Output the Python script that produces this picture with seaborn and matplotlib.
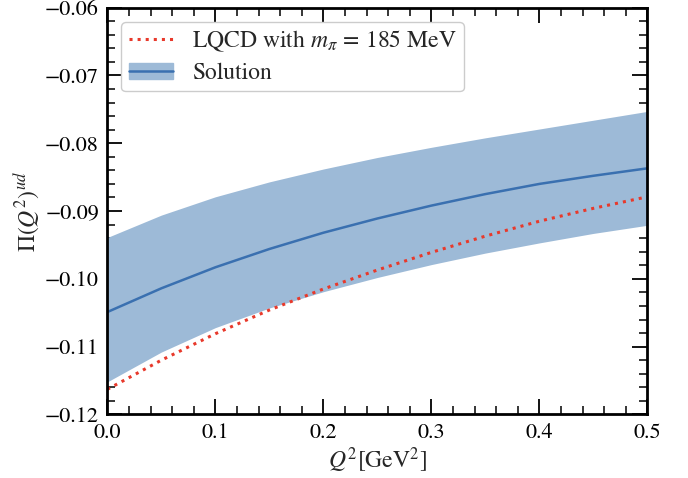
"""Vacuum polarisation Pi(Q^2)^ud: LQCD curve vs. solution band."""

import numpy as np
import pandas as pd
import matplotlib
matplotlib.use("Agg")
import matplotlib.pyplot as plt
import seaborn as sns
from matplotlib.ticker import MultipleLocator
from matplotlib.patches import Patch
from matplotlib.lines import Line2D

# values
q2 = [0.0, 0.05, 0.10, 0.15, 0.20, 0.25, 0.30, 0.35, 0.40, 0.45, 0.50]
lqcd = [-0.1163, -0.1120, -0.1081, -0.1046, -0.1015, -0.0987,
        -0.0961, -0.0937, -0.0915, -0.0896, -0.0879]
sol_mid = [-0.1049, -0.1014, -0.0983, -0.0956, -0.0932, -0.0911,
           -0.0892, -0.0875, -0.0860, -0.0848, -0.0837]
sol_hi = [-0.0939, -0.0906, -0.0879, -0.0857, -0.0838, -0.0821,
          -0.0806, -0.0792, -0.0779, -0.0766, -0.0753]
sol_lo = [-0.1152, -0.1108, -0.1072, -0.1043, -0.1019, -0.0998,
          -0.0979, -0.0962, -0.0947, -0.0933, -0.0921]

df = pd.DataFrame({"q2": q2, "lqcd": lqcd, "mid": sol_mid,
                   "hi": sol_hi, "lo": sol_lo})

sns.set_style("ticks")
plt.rcParams["font.family"] = ["STIXGeneral", "DejaVu Serif"]
plt.rcParams["mathtext.fontset"] = "stix"

band_col = "#9dbad7"
line_col = "#3a70b0"
red = "#e8392b"

fig, ax = plt.subplots(figsize=(6.88, 4.78), dpi=100)
fig.subplots_adjust(left=0.156, right=0.941, top=0.984, bottom=0.133)

sns.lineplot(data=df, x="q2", y="lqcd", ax=ax, color=red, linestyle=":",
             linewidth=2.2)
ax.fill_between(df["q2"], df["lo"], df["hi"], color=band_col, linewidth=0)
sns.lineplot(data=df, x="q2", y="mid", ax=ax, color=line_col, linewidth=1.8)

# legend: band + line drawn as one entry
h_lqcd = Line2D([], [], color=red, linestyle=":", linewidth=2.2)
h_sol = (Patch(facecolor=band_col, edgecolor=band_col),
         Line2D([], [], color=line_col, linewidth=1.8))
ax.legend([h_lqcd, h_sol], [r"LQCD with $m_\pi\,=\,185$ MeV", "Solution"],
          loc="upper left", fontsize=17, frameon=True, fancybox=True,
          edgecolor="#cccccc", framealpha=1.0, handlelength=1.9,
          handletextpad=0.8, labelspacing=0.35, borderpad=0.3,
          borderaxespad=0.6)

ax.set_xlim(0, 0.5)
ax.set_ylim(-0.12, -0.06)
ax.xaxis.set_major_locator(MultipleLocator(0.1))
ax.xaxis.set_minor_locator(MultipleLocator(0.02))
ax.yaxis.set_major_locator(MultipleLocator(0.01))
ax.yaxis.set_minor_locator(MultipleLocator(0.002))
ax.tick_params(which="both", direction="in", top=True, right=True,
               colors="black", labelsize=16, pad=6)
ax.tick_params(which="major", length=11, width=1.3)
ax.tick_params(which="minor", length=6, width=1.1)
for s in ax.spines.values():
    s.set_linewidth(2)
    s.set_color("black")

ax.set_xlabel(r"$Q^2[\mathrm{GeV}^2]$", fontsize=17, labelpad=2)
ax.set_ylabel(r"$\Pi(Q^2)^{ud}$", fontsize=17, labelpad=2)

plt.savefig("out.png", dpi=100)
plt.close()
